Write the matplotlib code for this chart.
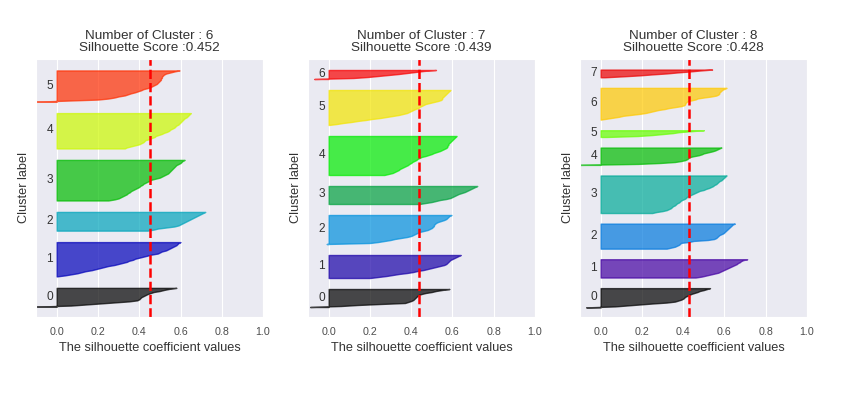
import numpy as np
import matplotlib
matplotlib.use('Agg')
import matplotlib.pyplot as plt
import matplotlib.cm as cm
import seaborn as sns

# sorted silhouette values of every cluster, one list per cluster
sil_k6 = [
    [-0.10, 0.07, 0.14, 0.21, 0.28, 0.35, 0.39, 0.40, 0.405, 0.41, 0.42, 0.43, 0.44, 0.455, 0.47, 0.50, 0.52, 0.545, 0.58],
    [0.00, 0.04, 0.07, 0.10, 0.12, 0.14, 0.17, 0.19, 0.21, 0.23, 0.25, 0.28, 0.30, 0.32, 0.34, 0.35, 0.37, 0.38, 0.40, 0.42,
     0.44, 0.46, 0.49, 0.50, 0.51, 0.53, 0.54, 0.55, 0.56, 0.57, 0.58, 0.585, 0.59, 0.60],
    [0.44, 0.47, 0.49, 0.53, 0.57, 0.59, 0.60, 0.61, 0.62, 0.63, 0.64, 0.65, 0.66, 0.67, 0.68, 0.69, 0.70, 0.71, 0.72],
    [0.25, 0.28, 0.30, 0.31, 0.32, 0.33, 0.34, 0.345, 0.355, 0.36, 0.37, 0.38, 0.39, 0.40, 0.405, 0.415, 0.42, 0.43, 0.44, 0.45,
     0.46, 0.48, 0.50, 0.51, 0.52, 0.53, 0.54, 0.545, 0.55, 0.555, 0.56, 0.565, 0.57, 0.575, 0.58, 0.59, 0.60, 0.605, 0.61, 0.62],
    [0.33, 0.34, 0.36, 0.38, 0.40, 0.41, 0.42, 0.425, 0.43, 0.45, 0.46, 0.475, 0.48, 0.495, 0.51, 0.52, 0.535, 0.545, 0.55, 0.56,
     0.57, 0.575, 0.58, 0.59, 0.595, 0.60, 0.605, 0.61, 0.615, 0.62, 0.63, 0.635, 0.64, 0.645, 0.65],
    [-0.10, 0.05, 0.20, 0.25, 0.28, 0.30, 0.33, 0.345, 0.36, 0.38, 0.395, 0.41, 0.42, 0.44, 0.455, 0.465, 0.475, 0.485, 0.49, 0.495,
     0.50, 0.505, 0.505, 0.51, 0.51, 0.515, 0.52, 0.53, 0.55, 0.57, 0.595],
]

sil_k7 = [
    [-0.09, 0.06, 0.14, 0.25, 0.37, 0.385, 0.40, 0.41, 0.415, 0.42, 0.425, 0.43, 0.435, 0.45, 0.47, 0.50, 0.52, 0.55, 0.585],
    [0.20, 0.24, 0.28, 0.31, 0.34, 0.38, 0.41, 0.43, 0.46, 0.48, 0.50, 0.52, 0.54, 0.56, 0.57, 0.575, 0.58, 0.585, 0.59, 0.60,
     0.61, 0.62, 0.63, 0.64],
    [-0.01, 0.20, 0.24, 0.27, 0.30, 0.32, 0.35, 0.38, 0.40, 0.41, 0.42, 0.43, 0.44, 0.46, 0.48, 0.49, 0.50, 0.505, 0.51, 0.51,
     0.515, 0.52, 0.53, 0.545, 0.56, 0.57, 0.575, 0.58, 0.585, 0.595],
    [0.44, 0.47, 0.50, 0.52, 0.54, 0.57, 0.59, 0.60, 0.61, 0.62, 0.63, 0.645, 0.66, 0.67, 0.68, 0.69, 0.70, 0.71, 0.72],
    [0.27, 0.29, 0.31, 0.32, 0.33, 0.34, 0.345, 0.355, 0.365, 0.375, 0.385, 0.39, 0.40, 0.405, 0.415, 0.425, 0.43, 0.44, 0.45, 0.47,
     0.485, 0.50, 0.51, 0.525, 0.54, 0.55, 0.56, 0.57, 0.575, 0.575, 0.58, 0.58, 0.585, 0.59, 0.595, 0.60, 0.605, 0.61, 0.615, 0.62],
    [0.00, 0.04, 0.07, 0.11, 0.14, 0.18, 0.21, 0.25, 0.28, 0.31, 0.34, 0.36, 0.38, 0.39, 0.40, 0.41, 0.42, 0.435, 0.44, 0.45,
     0.46, 0.47, 0.49, 0.51, 0.53, 0.545, 0.55, 0.55, 0.555, 0.56, 0.565, 0.57, 0.575, 0.58, 0.585, 0.59],
    [-0.07, 0.12, 0.19, 0.24, 0.29, 0.34, 0.38, 0.42, 0.46, 0.52],
]

sil_k8 = [
    [-0.07, 0.07, 0.13, 0.19, 0.25, 0.32, 0.36, 0.375, 0.39, 0.40, 0.405, 0.41, 0.42, 0.43, 0.44, 0.455, 0.47, 0.48, 0.50, 0.515,
     0.53],
    [0.46, 0.49, 0.51, 0.53, 0.55, 0.57, 0.58, 0.59, 0.60, 0.61, 0.62, 0.63, 0.64, 0.65, 0.66, 0.665, 0.675, 0.68, 0.69, 0.71],
    [0.32, 0.34, 0.36, 0.37, 0.38, 0.385, 0.39, 0.43, 0.45, 0.52, 0.55, 0.56, 0.565, 0.57, 0.575, 0.585, 0.595, 0.60, 0.605, 0.61,
     0.615, 0.62, 0.625, 0.63, 0.635, 0.64, 0.65],
    [0.25, 0.27, 0.30, 0.32, 0.33, 0.34, 0.345, 0.35, 0.36, 0.365, 0.37, 0.38, 0.385, 0.39, 0.40, 0.41, 0.415, 0.42, 0.43, 0.44,
     0.45, 0.46, 0.47, 0.48, 0.50, 0.51, 0.525, 0.535, 0.545, 0.55, 0.56, 0.565, 0.57, 0.575, 0.585, 0.59, 0.595, 0.60, 0.605, 0.61],
    [-0.10, 0.18, 0.29, 0.36, 0.39, 0.41, 0.42, 0.425, 0.43, 0.45, 0.475, 0.49, 0.50, 0.52, 0.54, 0.555, 0.565, 0.575, 0.585],
    [0.03, 0.18, 0.25, 0.30, 0.35, 0.38, 0.44, 0.50],
    [0.00, 0.03, 0.06, 0.09, 0.11, 0.15, 0.19, 0.22, 0.24, 0.26, 0.28, 0.31, 0.33, 0.36, 0.39, 0.405, 0.41, 0.41, 0.415, 0.42,
     0.44, 0.46, 0.47, 0.50, 0.535, 0.56, 0.57, 0.575, 0.575, 0.58, 0.585, 0.59, 0.60, 0.61],
    [0.02, 0.11, 0.19, 0.25, 0.32, 0.37, 0.43, 0.48, 0.54],
]

n_clusters = [6, 7, 8]
scores = [0.452, 0.439, 0.428]
silhouettes = [sil_k6, sil_k7, sil_k8]
x_ticks = [0, 0.2, 0.4, 0.6, 0.8, 1]

sns.set_style('darkgrid')
plt.rcParams['font.family'] = ['Liberation Sans', 'DejaVu Sans']

fig, axes = plt.subplots(1, 3, figsize=(8.58, 3.97), dpi=100)
fig.subplots_adjust(left=0.042, right=0.9406, bottom=0.2015, top=0.8514, wspace=0.198)

for ax, k, score, sil in zip(axes, n_clusters, scores, silhouettes):
    n_samples = sum(len(v) for v in sil)
    ax.set_xlim([-0.1, 1])
    ax.set_ylim([0, n_samples + (k + 1) * 10])

    y_lower = 10
    for i, vals in enumerate(sil):
        vals = np.sort(np.array(vals))
        size = len(vals)
        y_upper = y_lower + size
        color = cm.nipy_spectral(float(i) / k)
        ax.fill_betweenx(np.arange(y_lower, y_upper), 0, vals,
                         facecolor=color, edgecolor=color, alpha=0.7)
        ax.text(-0.05, y_lower + 0.5 * size, str(i), va='center', fontsize=8.6, color='.2')
        y_lower = y_upper + 10

    ax.axvline(x=score, color='red', linestyle='--', lw=1.8)
    ax.set_title('Number of Cluster : {}\nSilhouette Score :{}'.format(k, round(score, 3)),
                 fontsize=9.7, linespacing=1.0, color='.2')
    ax.set_xlabel('The silhouette coefficient values', fontsize=9.2, color='.2')
    ax.set_ylabel('Cluster label', fontsize=9.2, color='.2')
    ax.set_yticks([])
    ax.set_xticks(x_ticks)
    ax.tick_params(axis='x', labelsize=7.7, colors='.3')

fig.savefig('out.png', dpi=100)
